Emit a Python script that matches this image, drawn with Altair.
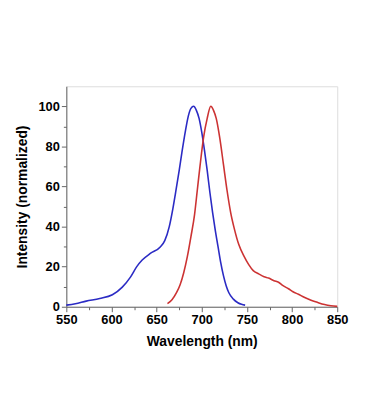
import altair as alt
import pandas as pd

# Blue (excitation) spectrum
blue_wl = [550, 560, 572, 587, 601, 612, 621, 628, 634, 643, 654, 659, 664, 668, 671, 675, 678, 682, 685, 688, 691,
           694, 697, 700, 703, 706, 709, 712, 715, 718, 721, 724, 727, 730, 735, 740, 744, 748]
blue_val = [0.8, 1.5, 2.8, 4.1, 6.0, 9.8, 14.8, 20.0, 23.3, 26.6, 29.8, 33.0, 40.0, 49.0, 57.0, 68.0, 77.0, 88.0, 95.0, 99.0, 100.0,
            98.0, 94.0, 87.0, 78.0, 68.0, 57.0, 47.0, 38.0, 30.0, 22.0, 15.5, 10.5, 7.0, 3.8, 2.0, 1.2, 0.8]

# Red (emission) spectrum
red_wl = [662, 667, 672, 676, 680, 684, 688, 692, 695, 698, 702, 706, 710, 713, 716, 720, 724, 728, 732, 736, 741,
          747, 752, 757, 763, 769, 774, 780, 785, 790, 796, 801, 807, 814, 821, 828, 836, 843, 850]
red_val = [1.6, 3.5, 7.0, 11.0, 17.0, 25.0, 35.0, 46.0, 58.0, 70.0, 84.5, 94.0, 100.0, 98.0, 94.0, 84.0, 71.0, 58.0, 47.0, 39.0, 31.0,
           25.0, 21.0, 18.0, 16.4, 15.0, 14.3, 13.0, 12.2, 10.5, 9.0, 7.5, 6.2, 4.6, 3.3, 2.2, 1.1, 0.5, 0.2]

x_ticks = list(range(550, 851, 25))
y_ticks = list(range(0, 101, 10))

df = pd.concat([
    pd.DataFrame({"wl": blue_wl, "val": blue_val, "series": "blue"}),
    pd.DataFrame({"wl": red_wl, "val": red_val, "series": "red"}),
])

axis_common = dict(
    domainColor="#666666",
    tickColor="#666666",
    labelColor="#000000",
    labelFont="Liberation Sans",
    labelFontWeight="bold",
    labelFontSize=13,
    titleFont="Liberation Sans",
    titleFontWeight="bold",
    titleFontSize=14,
    titleColor="#000000",
    grid=False,
    tickWidth=1,
    labelFlush=False,
)

x_axis = alt.Axis(
    values=x_ticks,
    labelExpr="datum.value % 50 === 0 ? datum.label : ''",
    tickSize={"condition": {"test": "datum.value % 50 === 0", "value": 5}, "value": 3},
    labelPadding=2,
    titlePadding=8,
    format="d",
    **axis_common,
)
y_axis = alt.Axis(
    values=y_ticks,
    labelExpr="datum.value % 20 === 0 ? datum.label : ''",
    tickSize={"condition": {"test": "datum.value % 20 === 0", "value": 5}, "value": 3},
    labelPadding=2,
    titlePadding=9,
    **axis_common,
)

chart = alt.Chart(df).mark_line(strokeWidth=1.6, interpolate="monotone").encode(
    x=alt.X("wl:Q", scale=alt.Scale(domain=[550, 850], nice=False, zero=False), axis=x_axis, title="Wavelength (nm)"),
    y=alt.Y("val:Q", scale=alt.Scale(domain=[0, 110], nice=False), axis=y_axis, title="Intensity (normalized)"),
    color=alt.Color("series:N", scale=alt.Scale(domain=["blue", "red"], range=["#2b2bc4", "#cc3333"]), legend=None),
).properties(
    width=274,
    height=223,
    autosize=alt.AutoSizeParams(type="none"),
    padding={"left": 59, "top": 77, "right": 20, "bottom": 80},
).configure_view(
    stroke="#666666",
    strokeWidth=1,
).configure(background="white")

chart.save("out.html", embed_options={"renderer": "svg", "actions": False})
